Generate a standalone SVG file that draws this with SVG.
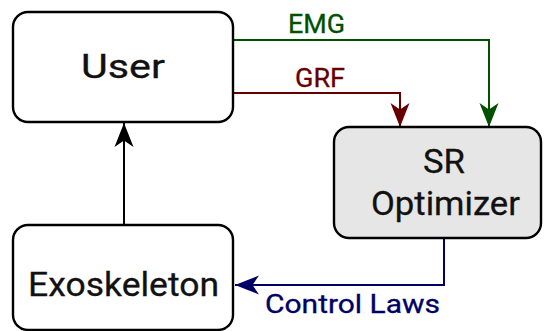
<svg xmlns="http://www.w3.org/2000/svg" width="544" height="331" viewBox="0 0 544 331">
  <style>
    .box { stroke: #000000; stroke-width: 2.4; }
    .plain { fill: #ffffff; }
    .grey { fill: #e6e6e6; }
    .node-label { font-family: Roboto, "DejaVu Sans", sans-serif; font-weight: 400; font-size: 34px; fill: #111111; stroke: #111111; stroke-width: 0.3; }
    .edge-label { font-family: Roboto, "DejaVu Sans", sans-serif; font-weight: 400; font-size: 25px; stroke-width: 0.3; }
    .edge { fill: none; stroke-width: 2; }
    .emg { stroke: #005000; }
    .grf { stroke: #660000; }
    .ctl { stroke: #000066; }
    .up { stroke: #000000; }
  </style>
  <defs>
    <marker id="arrow-black" markerUnits="userSpaceOnUse" markerWidth="28" markerHeight="22" refX="24" refY="10" orient="auto">
      <path d="M24,10 L0,0.5 L6.5,10 L0,19.5 Z" fill="#000000"/>
    </marker>
    <marker id="arrow-green" markerUnits="userSpaceOnUse" markerWidth="28" markerHeight="22" refX="24" refY="10" orient="auto">
      <path d="M24,10 L0,0.5 L6.5,10 L0,19.5 Z" fill="#005000"/>
    </marker>
    <marker id="arrow-red" markerUnits="userSpaceOnUse" markerWidth="28" markerHeight="22" refX="24" refY="10" orient="auto">
      <path d="M24,10 L0,0.5 L6.5,10 L0,19.5 Z" fill="#660000"/>
    </marker>
    <marker id="arrow-blue" markerUnits="userSpaceOnUse" markerWidth="28" markerHeight="22" refX="24" refY="10" orient="auto">
      <path d="M24,10 L0,0.5 L6.5,10 L0,19.5 Z" fill="#000066"/>
    </marker>
  </defs>

  <rect width="544" height="331" fill="#ffffff"/>

  <!-- connectors -->
  <g id="connectors">
    <path class="edge emg" d="M233,40 H489 V127" marker-end="url(#arrow-green)"/>
    <path class="edge grf" d="M233,93 H400 V127" marker-end="url(#arrow-red)"/>
    <path class="edge up" d="M124,225 V123" marker-end="url(#arrow-black)"/>
    <path class="edge ctl" d="M444,238 V285 H235" marker-end="url(#arrow-blue)"/>
    <text class="edge-label" x="288" y="33" fill="#005000" stroke="#005000" textLength="57" lengthAdjust="spacingAndGlyphs">EMG</text>
    <text class="edge-label" x="295" y="87" fill="#660000" stroke="#660000" textLength="50" lengthAdjust="spacingAndGlyphs">GRF</text>
    <text class="edge-label" x="265" y="313" fill="#000066" stroke="#000066" textLength="175" lengthAdjust="spacingAndGlyphs">Control Laws</text>
  </g>

  <!-- nodes -->
  <g id="user">
    <rect class="box plain" x="13" y="12" width="220" height="110" rx="15" ry="15"/>
    <text class="node-label" x="81" y="78" textLength="84" lengthAdjust="spacingAndGlyphs">User</text>
  </g>

  <g id="sr-optimizer">
    <rect class="box grey" x="334" y="127" width="207" height="111" rx="15" ry="15"/>
    <text class="node-label" x="423" y="173" textLength="42" lengthAdjust="spacingAndGlyphs">SR</text>
    <text class="node-label" x="371" y="215" textLength="149" lengthAdjust="spacingAndGlyphs">Optimizer</text>
  </g>

  <g id="exoskeleton">
    <rect class="box plain" x="13" y="225" width="220" height="105" rx="15" ry="15"/>
    <text class="node-label" x="28" y="296" textLength="191" lengthAdjust="spacingAndGlyphs">Exoskeleton</text>
  </g>
</svg>
